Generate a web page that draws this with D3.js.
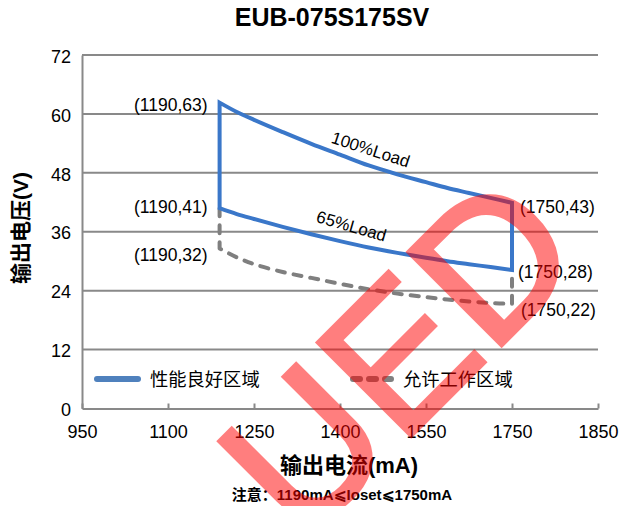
<!DOCTYPE html>
<html>
<head>
<meta charset="utf-8">
<script src="https://cdn.jsdelivr.net/npm/d3@7"></script>
<style>
  body { margin: 0; background: #fff; }
  svg text { font-family: "Liberation Sans", Arial, "Noto Sans CJK SC", sans-serif; fill: #000; }
</style>
</head>
<body>
<div id="chart"></div>
<script>
// x ticks as printed on the axis (spacing is even in the picture, not linear)
const xTicks = [950, 1100, 1250, 1400, 1550, 1750, 1850];
const yTicks = [0, 12, 24, 36, 48, 60, 72];

// output current (mA) where the curves were read
const currents = [1190, 1220, 1250, 1300, 1350, 1400, 1450, 1500, 1550, 1600, 1650, 1700, 1750];
// voltage (V)
const load100 = [62.3, 60.4, 58.8, 56.3, 53.9, 51.7, 49.5, 47.7, 46.1, 44.9, 43.9, 42.9, 41.9];
const load65 = [40.8, 39.6, 38.6, 37.0, 35.5, 34.1, 32.8, 31.7, 30.7, 30.0, 29.4, 28.8, 28.2];
const allowed = [32.6, 30.8, 29.4, 27.8, 26.6, 25.4, 24.3, 23.4, 22.7, 22.2, 21.8, 21.5, 21.3];

const leftLabels = ["(1190,63)", "(1190,41)", "(1190,32)"];
const rightLabels = ["(1750,43)", "(1750,28)", "(1750,22)"];
const legendNames = ["性能良好区域", "允许工作区域"];

const width = 629, height = 506;
const margin = { top: 55, right: 31, bottom: 97.5, left: 82 };
const w = width - margin.left - margin.right;
const h = height - margin.top - margin.bottom;

const svg = d3.select("#chart").append("svg")
  .attr("width", width)
  .attr("height", height);

const g = svg.append("g")
  .attr("transform", `translate(${margin.left},${margin.top})`);

const x = d3.scaleLinear()
  .domain(xTicks)
  .range(xTicks.map((d, i) => i * w / (xTicks.length - 1)));

const y = d3.scaleLinear().domain([0, 72]).range([h, 0]);

const gridColor = "#898989";

// gridlines
g.selectAll(".grid")
  .data(yTicks.slice(1))
  .enter().append("line")
  .attr("x1", 0).attr("x2", w)
  .attr("y1", d => y(d)).attr("y2", d => y(d))
  .attr("stroke", gridColor)
  .attr("stroke-width", 2);

// y axis
const yAxis = g.append("g")
  .call(d3.axisLeft(y).tickValues(yTicks).tickSize(0).tickPadding(11));
yAxis.select(".domain").attr("stroke", gridColor).attr("stroke-width", 2);
yAxis.selectAll("text").attr("font-size", 18).attr("dy", "0.4em");

// x axis, ticks point inward
const xAxis = g.append("g")
  .attr("transform", `translate(0,${h})`)
  .call(d3.axisBottom(x).tickValues(xTicks).tickFormat(d3.format("d"))
    .tickSizeInner(-5).tickSizeOuter(0).tickPadding(17));
xAxis.select(".domain").attr("stroke", gridColor).attr("stroke-width", 2);
xAxis.selectAll(".tick line").attr("stroke", gridColor).attr("stroke-width", 2);
xAxis.selectAll("text").attr("font-size", 18);

const curve = d3.line()
  .x(d => x(d[0]))
  .y(d => y(d[1]))
  .curve(d3.curveCatmullRom.alpha(0.5));

const top100 = currents.map((c, i) => [c, load100[i]]);
const bot65 = currents.map((c, i) => [c, load65[i]]).reverse();
const allow = currents.map((c, i) => [c, allowed[i]]);

// dashed allowed area outline
const dashPath = `M${x(1190)},${y(load65[0])}L${x(1190)},${y(allowed[0])}` +
  curve(allow).replace(/^M/, "L") +
  `L${x(1750)},${y(load65[load65.length - 1])}`;

g.append("path")
  .attr("d", dashPath)
  .attr("fill", "none")
  .attr("stroke", "#7f7f7f")
  .attr("stroke-width", 4)
  .attr("stroke-dasharray", "8,9")
  .attr("stroke-linecap", "round")
  .attr("stroke-linejoin", "round");

// blue good-performance area outline
const bluePath = curve(top100) + curve(bot65).replace(/^M/, "L") + "Z";
g.append("path")
  .attr("d", bluePath)
  .attr("fill", "none")
  .attr("stroke", "#3a77c9")
  .attr("stroke-width", 4)
  .attr("stroke-linejoin", "miter");

// curve labels
g.append("text")
  .attr("transform", `translate(${x(1445) + 3},${y(51.6)}) rotate(18)`)
  .attr("text-anchor", "middle")
  .attr("font-size", 17)
  .text("100%Load");

g.append("text")
  .attr("transform", `translate(${x(1405) + 7},${y(36.0)}) rotate(16)`)
  .attr("text-anchor", "middle")
  .attr("font-size", 17)
  .text("65%Load");

// corner labels
const leftY = [load100[0], load65[0], allowed[0]];
g.selectAll(".lbl-l")
  .data(leftLabels)
  .enter().append("text")
  .attr("x", x(1190) - 12)
  .attr("y", (d, i) => y(leftY[i]) + [8, 5, 13][i])
  .attr("text-anchor", "end")
  .attr("font-size", 17.5)
  .text(d => d);

const rightY = [load100[load100.length - 1], load65[load65.length - 1], allowed[allowed.length - 1]];
g.selectAll(".lbl-r")
  .data(rightLabels)
  .enter().append("text")
  .attr("x", (d, i) => x(1750) + [8, 6, 9][i])
  .attr("y", (d, i) => y(rightY[i]) + [10, 8, 12][i])
  .attr("font-size", 17.5)
  .text(d => d);

// legend
const leg = g.append("g").attr("transform", `translate(0,${379 - margin.top})`);
leg.append("line")
  .attr("x1", 97 - margin.left).attr("x2", 138 - margin.left)
  .attr("stroke", "#4f81bd").attr("stroke-width", 6).attr("stroke-linecap", "round");
leg.append("text")
  .attr("x", 150 - margin.left).attr("dy", "0.36em")
  .attr("font-size", 18.3)
  .text(legendNames[0]);
leg.append("line")
  .attr("x1", 353 - margin.left).attr("x2", 391 - margin.left)
  .attr("stroke", "#808080").attr("stroke-width", 6)
  .attr("stroke-dasharray", "7,9").attr("stroke-linecap", "round");
leg.append("text")
  .attr("x", 403 - margin.left).attr("dy", "0.36em")
  .attr("font-size", 18.3)
  .text(legendNames[1]);

// titles
svg.append("text")
  .attr("x", 332).attr("y", 26)
  .attr("text-anchor", "middle")
  .attr("font-size", 25).attr("font-weight", "bold")
  .text("EUB-075S175SV");

svg.append("text")
  .attr("transform", "translate(28,228) rotate(-90)")
  .attr("text-anchor", "middle")
  .attr("font-size", 21).attr("font-weight", "bold")
  .text("输出电压(V)");

svg.append("text")
  .attr("x", 349).attr("y", 473)
  .attr("text-anchor", "middle")
  .attr("font-size", 22).attr("font-weight", "bold")
  .text("输出电流(mA)");

svg.append("text")
  .attr("x", 342).attr("y", 500)
  .attr("text-anchor", "middle")
  .attr("font-size", 15).attr("font-weight", "bold")
  .text("注意：1190mA⩽Ioset⩽1750mA");

// watermark
svg.append("g")
  .attr("opacity", 0.5)
  .append("text")
  .attr("transform", "translate(302,545) rotate(-45)")
  .attr("font-size", 192)
  .style("fill", "#ff0000")
  .attr("stroke", "#ff0000")
  .attr("stroke-width", 4)
  .text("UED");
</script>
</body>
</html>
